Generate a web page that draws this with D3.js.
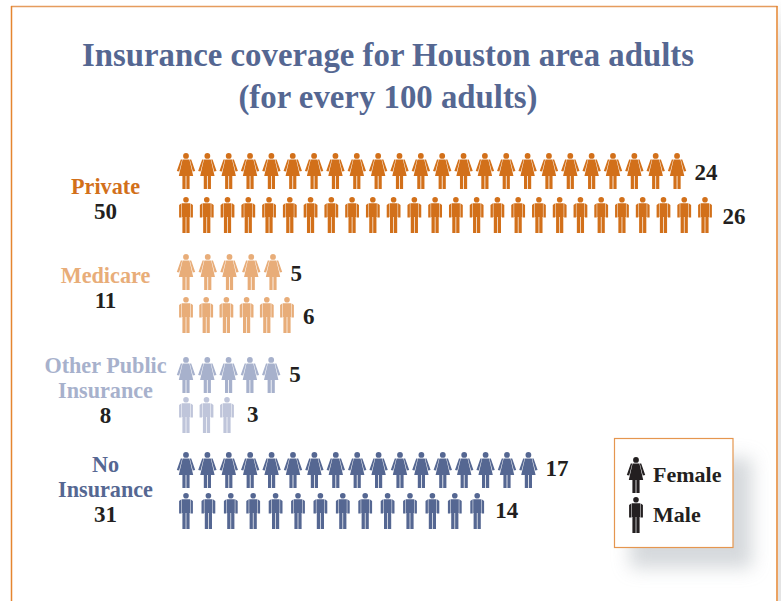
<!DOCTYPE html>
<html>
<head>
<meta charset="utf-8">
<script src="https://cdn.jsdelivr.net/npm/d3@7"></script>
<style>
  html, body { margin: 0; padding: 0; background: #fff; }
  svg { display: block; }
  text { font-family: "Liberation Serif", serif; font-weight: 700; }
</style>
</head>
<body>
<script>
// Coverage groups and head counts per 100 adults
const categories = ["Private", "Medicare", "Other Public Insurance", "No Insurance"];
const categoryLines = [["Private"], ["Medicare"], ["Other Public", "Insurance"], ["No", "Insurance"]];
const totals = [50, 11, 8, 31];
const femaleCounts = [24, 5, 5, 17];
const maleCounts = [26, 6, 3, 14];
const titleLines = ["Insurance coverage for Houston area adults", "(for every 100 adults)"];
const legendLabels = ["Female", "Male"];

const femaleColors = ["#D2701A", "#E8AD79", "#A7B1CC", "#556792"];
const maleColors = ["#D2701A", "#E8AD79", "#BFC5DA", "#556792"];
const ink = "#231F20";

const width = 781, height = 601;
const startX = 186;

// Vertical placement of each group's two icon rows, their counts and the left-hand label
const femaleTop = [153, 254, 357, 452];
const maleTop = [197, 297, 397, 493];
const femaleCountY = [180, 281, 382, 476];
const maleCountY = [224, 324, 422, 518];
const labelBaseline = [194, 283, 372.5, 472];
const femaleStep = [21.35, 21.75, 21.3, 21.4];
const maleStep = [20.76, 20.2, 20.5, 22.4];
const femaleGap = [17.5, 17.5, 18, 17];
const maleGap = [17.5, 16, 20, 18];

const svg = d3.select("body").append("svg")
  .attr("width", width).attr("height", height);

const defs = svg.append("defs");
defs.append("filter").attr("id", "legend-shadow")
  .attr("x", "-40%").attr("y", "-40%").attr("width", "180%").attr("height", "180%")
  .append("feGaussianBlur").attr("stdDeviation", 9);
const edgeFade = defs.append("linearGradient").attr("id", "edge-fade")
  .attr("x1", 0).attr("y1", 0).attr("x2", 0).attr("y2", 1);
edgeFade.append("stop").attr("offset", 0).attr("stop-color", "#fff");
edgeFade.append("stop").attr("offset", 0.08).attr("stop-color", "#E4E4E4");

function tracePolys(path, polys) {
  polys.forEach(poly => {
    poly.forEach((p, i) => i ? path.lineTo(p[0], p[1]) : path.moveTo(p[0], p[1]));
    path.closePath();
  });
}

// Pictogram shapes, 36 units tall, origin at the top centre
const femalePath = d3.path();
femalePath.arc(0, 2.9, 2.9, 0, Math.PI * 2);
femalePath.closePath();
tracePolys(femalePath, [
  [[-3.4, 6.6], [3.4, 6.6], [7.2, 23], [3.6, 23], [3.6, 36], [0.4, 36], [0.4, 23], [-0.4, 23], [-0.4, 36], [-3.6, 36], [-3.6, 23], [-7.2, 23]],
  [[-5.2, 6.6], [-3.8, 6.6], [-6.8, 18.4], [-9.2, 18]],
  [[5.2, 6.6], [3.8, 6.6], [6.8, 18.4], [9.2, 18]]
]);

const malePath = d3.path();
malePath.arc(0, 2.8, 2.8, 0, Math.PI * 2);
malePath.closePath();
tracePolys(malePath, [
  [[-4, 6.3], [4, 6.3], [4, 20], [3.6, 20], [3.6, 36], [0.35, 36], [0.35, 20], [-0.35, 20], [-0.35, 36], [-3.6, 36], [-3.6, 20], [-4, 20]],
  [[-4.5, 6.3], [-6.9, 8], [-6.9, 20.5], [-4.5, 20.5]],
  [[4.5, 6.3], [6.9, 8], [6.9, 20.5], [4.5, 20.5]]
]);

// Outer frame: pale top rule, stronger sides, soft grey strip past the right edge
svg.append("rect").attr("x", 778).attr("y", 0).attr("width", 3).attr("height", height)
  .attr("fill", "url(#edge-fade)");
svg.append("line").attr("x1", 11).attr("x2", 777.5).attr("y1", 6.5).attr("y2", 6.5)
  .attr("stroke", "#E59C5E").attr("stroke-width", 1.5);
[11.5, 777].forEach(x => {
  svg.append("line").attr("x1", x).attr("x2", x).attr("y1", 6).attr("y2", height)
    .attr("stroke", "#E5852F").attr("stroke-width", 1.5);
});

// Title
svg.append("g").selectAll("text").data(titleLines).join("text")
  .attr("x", 388).attr("y", (d, i) => 66 + i * 42)
  .attr("text-anchor", "middle").attr("font-size", 32.8).attr("fill", "#556792")
  .text(d => d);

// One row of icons plus its count label
function drawRow(g, count, step, top, shape, color, gap, countY) {
  const x = d3.scalePoint()
    .domain(d3.range(count))
    .range([startX, startX + (count - 1) * step]);
  g.append("g").selectAll("path").data(x.domain()).join("path")
    .attr("d", shape.toString())
    .attr("fill", color)
    .attr("transform", d => `translate(${x(d)},${top})`);
  g.append("text")
    .attr("x", x(count - 1) + gap).attr("y", countY)
    .attr("font-size", 23).attr("fill", ink)
    .text(count);
}

categories.forEach((name, i) => {
  const g = svg.append("g").attr("class", "group").attr("data-name", name);
  drawRow(g, femaleCounts[i], femaleStep[i], femaleTop[i], femalePath, femaleColors[i], femaleGap[i], femaleCountY[i]);
  drawRow(g, maleCounts[i], maleStep[i], maleTop[i], malePath, maleColors[i], maleGap[i], maleCountY[i]);

  const lines = categoryLines[i];
  g.append("g").selectAll("text").data(lines).join("text")
    .attr("x", 105.5).attr("y", (d, k) => labelBaseline[i] + k * 25)
    .attr("text-anchor", "middle").attr("font-size", 22.2)
    .attr("fill", femaleColors[i])
    .text(d => d);
  g.append("text")
    .attr("x", 105.5).attr("y", labelBaseline[i] + lines.length * 25)
    .attr("text-anchor", "middle").attr("font-size", 23).attr("fill", ink)
    .text(totals[i]);
});

// Legend box with its soft drop shadow
const legend = svg.append("g");
legend.append("rect").attr("x", 630).attr("y", 458).attr("width", 122).attr("height", 110)
  .attr("fill", "#C4C9CE").attr("opacity", 0.7).attr("filter", "url(#legend-shadow)");
legend.append("rect").attr("x", 614.5).attr("y", 438.5).attr("width", 118.5).attr("height", 109)
  .attr("fill", "#fff").attr("stroke", "#E5964F").attr("stroke-width", 1.2);
[femalePath, malePath].forEach((shape, i) => {
  legend.append("path").attr("d", shape.toString()).attr("fill", ink)
    .attr("transform", `translate(636,${457 + i * 40})`);
  legend.append("text").attr("x", 653).attr("y", 482 + i * 40)
    .attr("font-size", 22).attr("fill", ink).text(legendLabels[i]);
});
</script>
</body>
</html>
